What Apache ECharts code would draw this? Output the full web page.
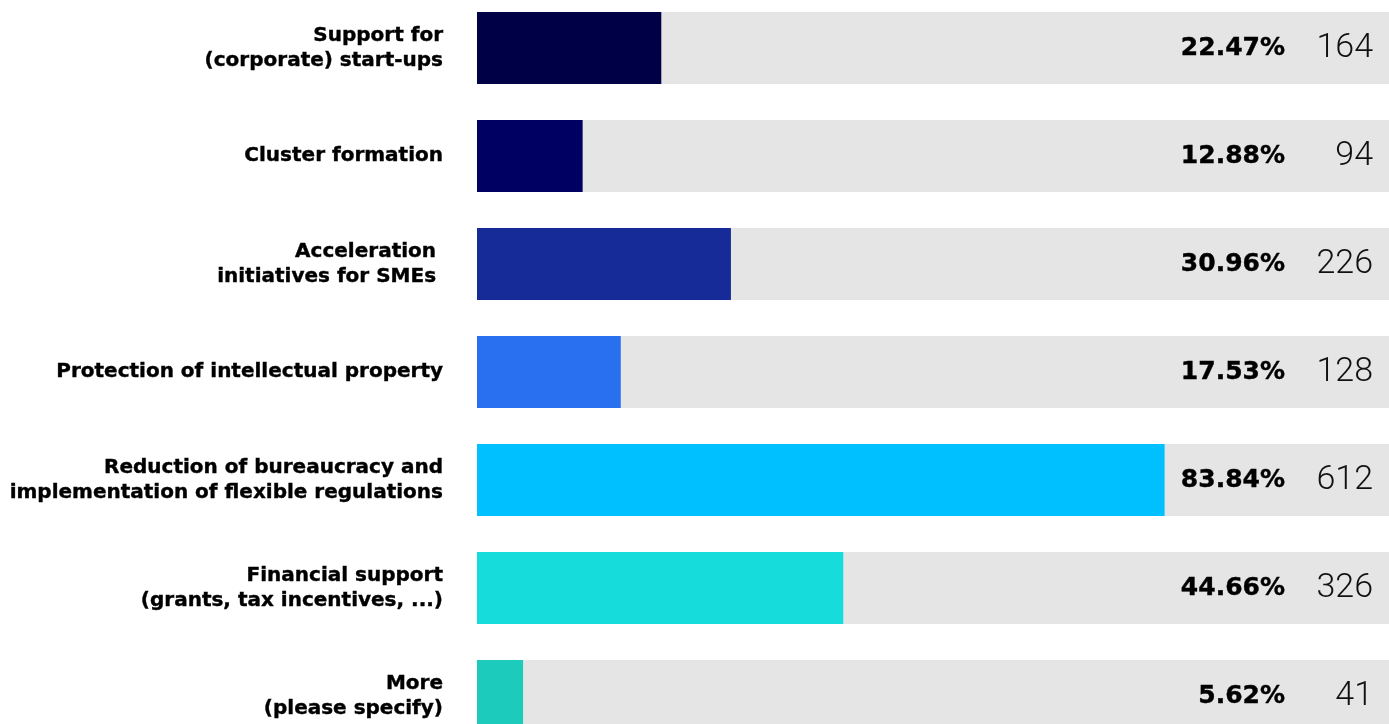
<!DOCTYPE html>
<html>
<head>
<meta charset="utf-8">
<title>Support measures</title>
<script src="https://cdn.jsdelivr.net/npm/echarts@6/dist/echarts.min.js"></script>
<style>
  html, body { margin: 0; padding: 0; background: #ffffff; overflow: hidden; }
  #wrap { position: relative; width: 1389px; height: 724px; overflow: hidden; }
  /* the plot runs a little past the top and bottom edges */
  #chart { position: absolute; left: 0; top: -6px; width: 1389px; height: 756px; }
</style>
</head>
<body>
<div id="wrap"><div id="chart"></div></div>
<script>
// Answer options, top to bottom
const categories = [
  'Support for\n(corporate) start-ups',
  'Cluster formation',
  'Acceleration \ninitiatives for SMEs ',
  'Protection of intellectual property',
  'Reduction of bureaucracy and\nimplementation of flexible regulations',
  'Financial support\n(grants, tax incentives, ...)',
  'More\n(please specify)'
];
// Share of respondents (%)
const shares = [22.47, 12.88, 30.96, 17.53, 83.84, 44.66, 5.62];
// Number of mentions
const counts = [164, 94, 226, 128, 612, 326, 41];
// Bar colours per option
const barColors = ['#000046', '#000062', '#162a98', '#2870f0', '#00c0ff', '#16dcdc', '#1ccbbc'];

// Upper end of the value axis; the grey track fills the whole width
const AXIS_MAX = 111.2;

const chart = echarts.init(document.getElementById('chart'), null, { renderer: 'canvas' });

const option = {
  animation: false,
  backgroundColor: '#ffffff',
  grid: { left: 477, right: 0, top: 0, bottom: 0, containLabel: false },
  xAxis: {
    type: 'value',
    min: 0,
    max: AXIS_MAX,
    show: false
  },
  yAxis: {
    type: 'category',
    data: categories,
    inverse: true,
    axisLine: { show: false },
    axisTick: { show: false },
    splitLine: { show: false },
    axisLabel: {
      margin: 34,
      color: '#000000',
      fontFamily: 'DejaVu Sans',
      fontWeight: 'bold',
      fontSize: 20,
      lineHeight: 25,
      align: 'right',
      textBorderColor: '#000000',
      textBorderWidth: 0.4
    }
  },
  series: [
    {
      name: 'share',
      type: 'bar',
      barCategoryGap: '33.33%',
      showBackground: true,
      backgroundStyle: { color: '#e5e5e5' },
      data: shares.map(function (v, i) {
        return { value: v, itemStyle: { color: barColors[i] } };
      }),
      z: 2
    },
    {
      // transparent full-length track that carries the right-hand labels
      name: 'labels',
      type: 'bar',
      barGap: '-100%',
      barCategoryGap: '33.33%',
      silent: true,
      itemStyle: { color: 'rgba(0,0,0,0)' },
      data: shares.map(function () { return AXIS_MAX; }),
      label: {
        show: true,
        position: 'insideRight',
        distance: 16,
        formatter: function (p) {
          return '{p|' + shares[p.dataIndex].toFixed(2) + '%}{n|' + counts[p.dataIndex] + '}';
        },
        rich: {
          p: {
            fontFamily: 'DejaVu Sans',
            fontWeight: 'bold',
            fontSize: 25,
            color: '#000000',
            textBorderColor: '#000000',
            textBorderWidth: 0.4,
            verticalAlign: 'middle'
          },
          n: {
            fontFamily: 'Roboto',
            fontWeight: 300,
            fontSize: 34,
            color: '#111111',
            width: 88,
            align: 'right',
            verticalAlign: 'middle'
          }
        }
      },
      z: 3
    }
  ]
};

chart.setOption(option);
</script>
</body>
</html>
